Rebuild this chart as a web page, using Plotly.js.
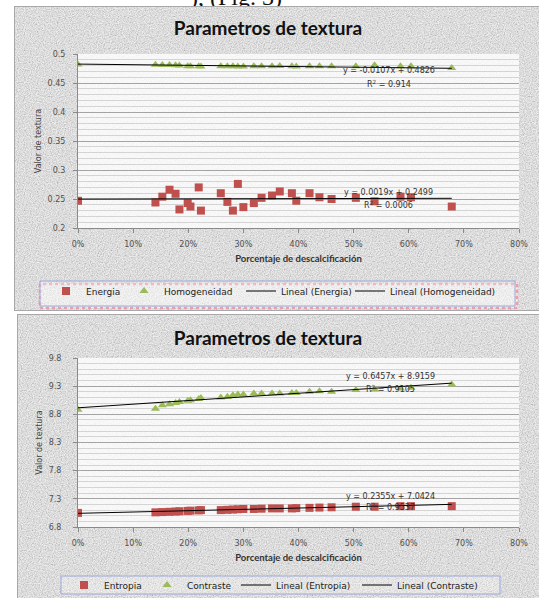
<!DOCTYPE html>
<html>
<head>
<meta charset="utf-8">
<script src="https://cdn.plot.ly/plotly-3.0.1.min.js"></script>
<style>
  html, body { margin:0; padding:0; background:#fff; width:539px; height:598px; overflow:hidden; }
  .tex {
    position:absolute;
    background-color:#e4e4e4;
    background-image:url("data:image/svg+xml;utf8,<svg xmlns='http://www.w3.org/2000/svg' width='160' height='160'><filter id='n'><feTurbulence type='fractalNoise' baseFrequency='0.85' numOctaves='2' stitchTiles='stitch'/><feColorMatrix type='matrix' values='1.3 0 0 0 0  1.3 0 0 0 0  1.3 0 0 0 0  0 0 0 0 0.45'/></filter><rect width='100%' height='100%' filter='url(%23n)'/></svg>");
    border-top:1px solid #a8a8a8; border-left:1px solid #a8a8a8; border-bottom:1px solid #a8a8a8;
  }
  #frame1 { left:14px; top:6px; width:525px; height:303px; }
  #frame2 { left:17px; top:314px; width:522px; height:290px; }
  #cut { position:absolute; left:190px; top:-16px; font-family:"Liberation Serif", serif; font-size:24px; color:#111; white-space:nowrap; }
  .chart { position:absolute; left:0; width:539px; }
  #c1 { top:0; height:312px; }
  #c2 { top:312px; height:286px; }
</style>
</head>
<body>
<div id="cut">), (Fig. 3)</div>
<div class="tex" id="frame1"></div>
<div class="tex" id="frame2"></div>
<div class="chart" id="c1"></div>
<div class="chart" id="c2"></div>
<script>
// ---- data ----
const descalcificacion = [0, 0.1405, 0.153, 0.166, 0.177, 0.184, 0.199, 0.204, 0.219, 0.223,
  0.259, 0.271, 0.281, 0.290, 0.300, 0.319, 0.333, 0.352, 0.366, 0.388,
  0.396, 0.420, 0.438, 0.460, 0.504, 0.538, 0.585, 0.604, 0.678];

const energia = [0.247, 0.244, 0.254, 0.266, 0.259, 0.232, 0.243, 0.237, 0.270, 0.230,
  0.260, 0.245, 0.230, 0.276, 0.236, 0.243, 0.252, 0.256, 0.263, 0.260,
  0.247, 0.260, 0.253, 0.250, 0.252, 0.246, 0.254, 0.253, 0.237];

const homogeneidad = [0.482, 0.4815, 0.481, 0.481, 0.4805, 0.480, 0.479, 0.479, 0.479, 0.4785,
  0.479, 0.479, 0.479, 0.4785, 0.4785, 0.479, 0.479, 0.479, 0.4795, 0.479,
  0.4785, 0.479, 0.479, 0.479, 0.479, 0.4805, 0.479, 0.479, 0.476];

const entropia = [7.05, 7.06, 7.065, 7.07, 7.075, 7.08, 7.085, 7.09, 7.095, 7.10,
  7.10, 7.105, 7.11, 7.115, 7.12, 7.12, 7.125, 7.13, 7.13, 7.13,
  7.135, 7.14, 7.145, 7.15, 7.16, 7.16, 7.17, 7.17, 7.17];

const contraste = [8.88, 8.90, 8.96, 8.98, 9.00, 9.02, 9.04, 9.05, 9.07, 9.09,
  9.10, 9.11, 9.14, 9.15, 9.15, 9.17, 9.17, 9.17, 9.17, 9.18,
  9.18, 9.20, 9.21, 9.20, 9.23, 9.24, 9.26, 9.27, 9.33];

// linear trend coefficients shown on the chart: [slope, intercept, R2]
const trendEnergia      = [0.0019, 0.2499, 0.0006];
const trendHomogeneidad = [-0.0107, 0.4826, 0.914];
const trendEntropia     = [0.2355, 7.0424, 0.9537];
const trendContraste    = [0.6457, 8.9159, 0.9105];

const chartTitle = 'Parametros de textura';
const xTitle = 'Porcentaje de descalcificación';
const yTitle = 'Valor de textura';

// ---- styles ----
const RED = '#c0504d', GREEN = '#9bbb59';
const tickFont = {family:'DejaVu Sans, sans-serif', size:8, color:'#505050'};
const legFont = {family:'DejaVu Sans, sans-serif', size:9, color:'#222'};

function trendXY(x, c) {
  const x0 = Math.min(...x), x1 = Math.max(...x);
  return {x:[x0, x1], y:[c[0]*x0 + c[1], c[0]*x1 + c[1]]};
}
function eqText(c) {
  const s = c[0] < 0 ? '-' : '';
  return 'y = ' + s + Math.abs(c[0]).toFixed(4) + 'x + ' + c[1].toFixed(4);
}
function r2Text(c) { return 'R<sup>2</sup> = ' + c[2]; }

function makeChart(el, cfg) {
  const H = cfg.height, ml = 78, mr = 20, mt = cfg.mt, mb = cfg.mb;
  const plotW = 539 - ml - mr, plotH = H - mt - mb;
  const px = v => (v - ml) / plotW;
  const py = v => (H - mb - v) / plotH;
  const tA = trendXY(descalcificacion, cfg.trendA);
  const tB = trendXY(descalcificacion, cfg.trendB);
  const traces = [
    {x:descalcificacion, y:cfg.a, name:cfg.nameA, type:'scatter', mode:'markers',
     marker:{symbol:'square', size:8, color:RED}, legendwidth:cfg.lw[0], legend:'legend'},
    {x:descalcificacion, y:cfg.b, name:cfg.nameB, type:'scatter', mode:'markers',
     marker:{symbol:'triangle-up', size:8, color:GREEN}, legendwidth:cfg.lw[1], legend:'legend'},
    {x:tA.x, y:tA.y, name:'Lineal (' + cfg.nameA + ')', type:'scatter', mode:'lines',
     line:{color:'#000', width:1}, legendwidth:cfg.lw[2], legend:'legend'},
    {x:tB.x, y:tB.y, name:'Lineal (' + cfg.nameB + ')', type:'scatter', mode:'lines',
     line:{color:'#000', width:1}, legend:'legend2'}
  ];
  const annFont = {family:'DejaVu Sans, sans-serif', size:8, color:'#333'};
  const ann = [];
  cfg.labels.forEach(l => {
    ann.push({x:l.x, y:l.y1, xref:'x', yref:'y', text:eqText(l.c), showarrow:false, font:annFont});
    ann.push({x:l.x, y:l.y2, xref:'x', yref:'y', text:r2Text(l.c), showarrow:false, font:annFont});
  });
  const shapes = [];
  if (cfg.pinkBox) {
    const b = cfg.pinkBox;
    shapes.push({type:'rect', xref:'paper', yref:'paper', x0:px(b[0]), x1:px(b[1]), y0:py(b[3]), y1:py(b[2]),
      line:{color:'#e8a0b0', width:2.5, dash:'dot'}, fillcolor:'rgba(255,255,255,0.35)', layer:'below'});
  }
  const bb = cfg.blueBox;
  shapes.push({type:'rect', xref:'paper', yref:'paper', x0:px(bb[0]), x1:px(bb[1]), y0:py(bb[3]), y1:py(bb[2]),
    line:{color:'#9aa8d8', width:1}, fillcolor:'rgba(255,255,255,0.25)', layer:'below'});

  const legBase = {orientation:'h', xref:'container', yref:'container', xanchor:'left',
      y:cfg.legY, yanchor:'middle', font:legFont, bgcolor:'rgba(0,0,0,0)', borderwidth:0,
      tracegroupgap:0, itemwidth:30};
  const layout = {
    width:539, height:H,
    margin:{l:ml, r:mr, t:mt, b:mb},
    paper_bgcolor:'rgba(0,0,0,0)',
    plot_bgcolor:'rgba(255,255,255,0.78)',
    title:{text:'<b>' + chartTitle + '</b>', x:268/539, xref:'container', xanchor:'center',
      y:cfg.titleY, yref:'container', yanchor:'middle',
      font:{family:'Lato, sans-serif', size:19, color:'#111'}},
    showlegend:true,
    legend:Object.assign({}, legBase, {x:cfg.legX}),
    legend2:Object.assign({}, legBase, {x:cfg.leg2X}),
    xaxis:{range:[0, 0.8], dtick:0.1, tick0:0, tickformat:'.0%', showgrid:false, zeroline:false,
      showline:true, linecolor:'#8a8a8a', linewidth:1, ticks:'outside', ticklen:4, tickcolor:'#8a8a8a',
      tickfont:tickFont, ticklabelstandoff:4,
      title:{text:'<b>' + xTitle + '</b>', standoff:7,
        font:{family:'Lato, sans-serif', size:9.5, color:'#333'}}},
    yaxis:{range:cfg.yrange, dtick:cfg.dtick, tick0:cfg.yrange[0], showgrid:true, gridcolor:'#a4a4a4',
      gridwidth:1, zeroline:false, showline:true, linecolor:'#8a8a8a', linewidth:1, ticks:'outside',
      ticklen:4, tickcolor:'#8a8a8a', tickfont:tickFont, ticklabelstandoff:cfg.tls,
      minor:{dtick:cfg.dtick/5, showgrid:true, gridcolor:'#d4d4d4', gridwidth:1, ticks:''},
      title:{text:yTitle, standoff:4, font:{family:'DejaVu Sans, sans-serif', size:8, color:'#444'}}},
    annotations:ann,
    shapes:shapes
  };
  Plotly.newPlot(el, traces, layout, {displayModeBar:false, staticPlot:true});
}

makeChart('c1', {
  height:312, mt:54, mb:84, titleY:1 - 28/312,
  a:energia, b:homogeneidad, nameA:'Energia', nameB:'Homogeneidad',
  trendA:trendEnergia, trendB:trendHomogeneidad,
  yrange:[0.2, 0.5], dtick:0.05, tls:6,
  legX:46/539, leg2X:350/539, legY:1 - 291/312, lw:[33, 72, 95],
  labels:[{x:0.5636, y1:0.4717, y2:0.4483, c:trendHomogeneidad},
          {x:0.5636, y1:0.2614, y2:0.2390, c:trendEnergia}],
  blueBox:[40, 515, 281, 306], pinkBox:[40, 517, 284, 308]
});

makeChart('c2', {
  height:286, mt:46, mb:71, titleY:1 - 26/286,
  a:entropia, b:contraste, nameA:'Entropia', nameB:'Contraste',
  trendA:trendEntropia, trendB:trendContraste,
  yrange:[6.8, 9.8], dtick:0.5, tls:10,
  legX:64/539, leg2X:357/539, legY:(598 - 585)/286, lw:[38, 44, 95],
  labels:[{x:0.567, y1:9.471, y2:9.246, c:trendContraste},
          {x:0.567, y1:7.336, y2:7.147, c:trendEntropia}],
  blueBox:[61, 500, 264, 282], pinkBox:null
});
</script>
</body>
</html>
